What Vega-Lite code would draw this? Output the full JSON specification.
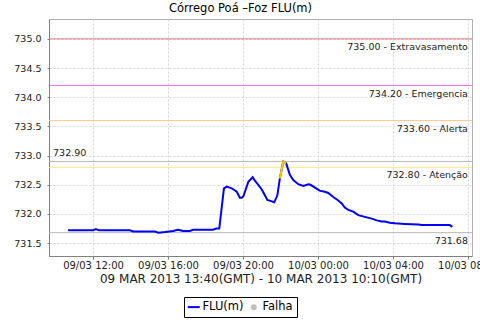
{
  "$schema": "https://vega.github.io/schema/vega-lite/v6.json",
  "autosize": "none",
  "width": 423,
  "height": 237,
  "padding": {"left": 49, "top": 19, "right": 8, "bottom": 64},
  "background": "white",
  "title": {"text": "Córrego Poá –Foz FLU(m)", "fontSize": 11.5, "fontWeight": "normal", "font": "DejaVu Sans", "color": "#000", "dx": -20, "offset": 5},
  "datasets": {
    "serie": [
      {"t": "2013-03-09T10:40", "v": 731.72},
      {"t": "2013-03-09T12:00", "v": 731.72},
      {"t": "2013-03-09T12:09", "v": 731.74},
      {"t": "2013-03-09T12:19", "v": 731.72},
      {"t": "2013-03-09T13:58", "v": 731.72},
      {"t": "2013-03-09T14:08", "v": 731.70},
      {"t": "2013-03-09T15:18", "v": 731.70},
      {"t": "2013-03-09T15:29", "v": 731.68},
      {"t": "2013-03-09T15:50", "v": 731.69},
      {"t": "2013-03-09T16:16", "v": 731.71},
      {"t": "2013-03-09T16:32", "v": 731.73},
      {"t": "2013-03-09T16:48", "v": 731.71},
      {"t": "2013-03-09T17:10", "v": 731.71},
      {"t": "2013-03-09T17:20", "v": 731.73},
      {"t": "2013-03-09T18:24", "v": 731.73},
      {"t": "2013-03-09T18:34", "v": 731.75},
      {"t": "2013-03-09T18:44", "v": 731.75},
      {"t": "2013-03-09T18:59", "v": 732.44},
      {"t": "2013-03-09T19:08", "v": 732.47},
      {"t": "2013-03-09T19:24", "v": 732.44},
      {"t": "2013-03-09T19:40", "v": 732.38},
      {"t": "2013-03-09T19:50", "v": 732.28},
      {"t": "2013-03-09T19:56", "v": 732.28},
      {"t": "2013-03-09T20:01", "v": 732.30},
      {"t": "2013-03-09T20:17", "v": 732.55},
      {"t": "2013-03-09T20:31", "v": 732.63},
      {"t": "2013-03-09T20:38", "v": 732.57},
      {"t": "2013-03-09T20:49", "v": 732.50},
      {"t": "2013-03-09T21:00", "v": 732.42},
      {"t": "2013-03-09T21:07", "v": 732.35},
      {"t": "2013-03-09T21:18", "v": 732.24},
      {"t": "2013-03-09T21:30", "v": 732.22},
      {"t": "2013-03-09T21:40", "v": 732.20},
      {"t": "2013-03-09T21:50", "v": 732.32},
      {"t": "2013-03-09T21:58", "v": 732.61},
      {"t": "2013-03-09T22:09", "v": 732.90},
      {"t": "2013-03-09T22:18", "v": 732.87},
      {"t": "2013-03-09T22:30", "v": 732.67},
      {"t": "2013-03-09T22:41", "v": 732.58},
      {"t": "2013-03-09T22:57", "v": 732.51},
      {"t": "2013-03-09T23:13", "v": 732.48},
      {"t": "2013-03-09T23:29", "v": 732.51},
      {"t": "2013-03-09T23:36", "v": 732.50},
      {"t": "2013-03-09T23:48", "v": 732.46},
      {"t": "2013-03-10T00:05", "v": 732.40},
      {"t": "2013-03-10T00:22", "v": 732.38},
      {"t": "2013-03-10T00:33", "v": 732.36},
      {"t": "2013-03-10T00:49", "v": 732.29},
      {"t": "2013-03-10T01:05", "v": 732.23},
      {"t": "2013-03-10T01:16", "v": 732.18},
      {"t": "2013-03-10T01:26", "v": 732.11},
      {"t": "2013-03-10T01:37", "v": 732.07},
      {"t": "2013-03-10T01:53", "v": 732.04},
      {"t": "2013-03-10T02:09", "v": 731.98},
      {"t": "2013-03-10T02:30", "v": 731.95},
      {"t": "2013-03-10T02:52", "v": 731.92},
      {"t": "2013-03-10T03:08", "v": 731.89},
      {"t": "2013-03-10T03:24", "v": 731.87},
      {"t": "2013-03-10T03:34", "v": 731.87},
      {"t": "2013-03-10T03:50", "v": 731.85},
      {"t": "2013-03-10T04:06", "v": 731.84},
      {"t": "2013-03-10T04:38", "v": 731.83},
      {"t": "2013-03-10T05:21", "v": 731.82},
      {"t": "2013-03-10T05:32", "v": 731.81},
      {"t": "2013-03-10T07:02", "v": 731.81},
      {"t": "2013-03-10T07:10", "v": 731.78}
    ],
    "limites": [
      {"v": 735.0, "nivel": "Extravasamento", "label": "735.00 - Extravasamento"},
      {"v": 734.2, "nivel": "Emergencia", "label": "734.20 - Emergencia"},
      {"v": 733.6, "nivel": "Alerta", "label": "733.60 - Alerta"},
      {"v": 732.8, "nivel": "Atenção", "label": "732.80 - Atenção"}
    ],
    "extremos": [
      {"v": 732.9, "tipo": "max", "label": "732.90"},
      {"v": 731.68, "tipo": "min", "label": "731.68"}
    ]
  },
  "layer": [
    {
      "data": {"name": "serie"},
      "mark": {"type": "line", "strokeWidth": 2, "opacity": 0},
      "encoding": {
        "x": {"field": "t", "type": "temporal",
          "scale": {"domain": [{"year": 2013, "month": 3, "date": 9, "hours": 9, "minutes": 39}, {"year": 2013, "month": 3, "date": 10, "hours": 8, "minutes": 13}]},
          "axis": {"title": "09 MAR 2013 13:40(GMT) - 10 MAR 2013 10:10(GMT)", "format": "%d/%m %H:%M",
            "values": [
              {"year": 2013, "month": 3, "date": 9, "hours": 12},
              {"year": 2013, "month": 3, "date": 9, "hours": 16},
              {"year": 2013, "month": 3, "date": 9, "hours": 20},
              {"year": 2013, "month": 3, "date": 10, "hours": 0},
              {"year": 2013, "month": 3, "date": 10, "hours": 4},
              {"year": 2013, "month": 3, "date": 10, "hours": 8}
            ],
            "labelFlush": false, "labelOverlap": false, "labelFontSize": 10, "titleFontSize": 12, "tickSize": 3, "labelPadding": 1, "titlePadding": 3}},
        "y": {"field": "v", "type": "quantitative",
          "scale": {"domain": [731.28, 735.34], "nice": false, "zero": false},
          "axis": {"title": null, "values": [731.5, 732.0, 732.5, 733.0, 733.5, 734.0, 734.5, 735.0], "format": ".1f", "labelFontSize": 9.5, "tickSize": 2, "labelPadding": 6}}
      }
    },
    {
      "data": {"name": "limites"},
      "transform": [{"filter": "datum.nivel == 'Extravasamento'"}],
      "mark": {"type": "rule", "strokeWidth": 1, "color": "#e07a7a"},
      "encoding": {"y": {"field": "v", "type": "quantitative", "axis": null}}
    },
    {
      "data": {"name": "limites"},
      "transform": [{"filter": "datum.nivel == 'Emergencia'"}],
      "mark": {"type": "rule", "strokeWidth": 1, "color": "#ff6cff"},
      "encoding": {"y": {"field": "v", "type": "quantitative", "axis": null}}
    },
    {
      "data": {"name": "limites"},
      "transform": [{"filter": "datum.nivel == 'Alerta'"}],
      "mark": {"type": "rule", "strokeWidth": 1, "color": "#ffc890"},
      "encoding": {"y": {"field": "v", "type": "quantitative", "axis": null}}
    },
    {
      "data": {"name": "limites"},
      "transform": [{"filter": "datum.nivel == 'Atenção'"}],
      "mark": {"type": "rule", "strokeWidth": 1, "color": "#ffe680"},
      "encoding": {"y": {"field": "v", "type": "quantitative", "axis": null}}
    },
    {
      "data": {"name": "extremos"},
      "mark": {"type": "rule", "strokeWidth": 1, "color": "#b8b8b8"},
      "encoding": {
        "y": {"field": "v", "type": "quantitative", "axis": null}
      }
    },
    {
      "data": {"name": "limites"},
      "mark": {"type": "text", "align": "right", "baseline": "alphabetic", "dy": 11, "font": "DejaVu Sans", "fontSize": 9.5, "color": "#222"},
      "encoding": {
        "x": {"datum": {"year": 2013, "month": 3, "date": 10, "hours": 8, "minutes": 0}, "type": "temporal", "axis": null},
        "y": {"field": "v", "type": "quantitative", "axis": null},
        "text": {"field": "label"}
      }
    },
    {
      "data": {"name": "extremos"},
      "transform": [{"filter": "datum.tipo == 'min'"}],
      "mark": {"type": "text", "align": "right", "baseline": "alphabetic", "dy": 11, "font": "DejaVu Sans", "fontSize": 9.5, "color": "#222"},
      "encoding": {
        "x": {"datum": {"year": 2013, "month": 3, "date": 10, "hours": 8, "minutes": 0}, "type": "temporal", "axis": null},
        "y": {"field": "v", "type": "quantitative", "axis": null},
        "text": {"field": "label"}
      }
    },
    {
      "data": {"name": "extremos"},
      "transform": [{"filter": "datum.tipo == 'max'"}],
      "mark": {"type": "text", "align": "left", "baseline": "alphabetic", "dy": -5, "font": "DejaVu Sans", "fontSize": 9.5, "color": "#222"},
      "encoding": {
        "x": {"datum": {"year": 2013, "month": 3, "date": 9, "hours": 9, "minutes": 52}, "type": "temporal", "axis": null},
        "y": {"field": "v", "type": "quantitative", "axis": null},
        "text": {"field": "label"}
      }
    },
    {
      "data": {"name": "serie"},
      "mark": {"type": "line", "strokeWidth": 2},
      "encoding": {
        "x": {"field": "t", "type": "temporal", "axis": null},
        "y": {"field": "v", "type": "quantitative", "axis": null},
        "color": {"datum": "FLU(m)", "type": "nominal",
          "scale": {"domain": ["FLU(m)", "Falha"], "range": ["#0000ff", "#c0c0c0"]},
          "legend": {
            "orient": "none", "legendX": 135, "legendY": 278, "direction": "horizontal", "title": null,
            "strokeColor": "#000", "fillColor": "#fff", "padding": 4,
            "labelFont": "DejaVu Sans", "labelFontSize": 11.5, "labelColor": "#000", "labelOffset": 3, "columnPadding": 4,
            "symbolSize": 144, "symbolStrokeWidth": 2, "values": ["FLU(m)", "Falha"],
            "encode": {"symbols": {"update": {
              "shape": {"signal": "datum.value === 'Falha' ? 'circle' : 'stroke'"},
              "size": {"signal": "datum.value === 'Falha' ? 36 : 144"},
              "fill": {"signal": "datum.value === 'Falha' ? '#c0c0c0' : 'transparent'"},
              "stroke": {"signal": "datum.value === 'Falha' ? '#c0c0c0' : '#0000ff'"},
              "strokeWidth": {"signal": "datum.value === 'Falha' ? 0 : 2"}
            }}}
          }}
      }
    },
    {
      "data": {"name": "serie"},
      "transform": [{"filter": {"field": "t", "range": [{"year": 2013, "month": 3, "date": 9, "hours": 21, "minutes": 58}, {"year": 2013, "month": 3, "date": 9, "hours": 22, "minutes": 18}]}}],
      "mark": {"type": "line", "strokeWidth": 2, "color": "#f2c900"},
      "encoding": {
        "x": {"field": "t", "type": "temporal", "axis": null},
        "y": {"field": "v", "type": "quantitative", "axis": null}
      }
    }
  ],
  "resolve": {"axis": {"x": "independent", "y": "independent"}},
  "config": {
    "font": "DejaVu Sans",
    "view": {"stroke": "#b0b0b0", "strokeWidth": 1},
    "axis": {
      "labelFont": "DejaVu Sans", "titleFont": "DejaVu Sans", "labelColor": "#222", "titleColor": "#222",
      "titleFontWeight": "normal", "domainColor": "#808080", "tickColor": "#808080",
      "grid": true, "gridColor": "#d4d4d4", "gridDash": [2, 2], "gridWidth": 1
    }
  }
}
